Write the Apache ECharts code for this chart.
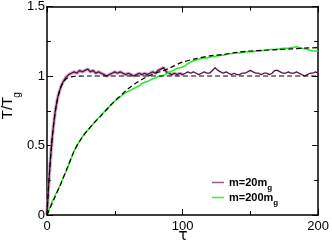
<!DOCTYPE html>
<html>
<head>
<meta charset="utf-8">
<script src="https://cdn.jsdelivr.net/npm/echarts@6/dist/echarts.min.js"></script>
<style>
  html, body { margin: 0; padding: 0; background: #fff; }
  #chart { width: 332px; height: 242px; }
</style>
</head>
<body>
<div id="chart"></div>
<script>
// m = 20 m_g (noisy, fast relaxation)
const tauLight = [0, 1, 2, 3, 4, 5, 6, 7, 8, 9, 10, 11, 12, 13, 14, 15, 16,
  18, 20, 22, 24, 26, 28, 30, 32, 34, 36, 38, 40, 42, 44, 46, 48, 50, 52, 54, 56,
  58, 60, 62, 64, 66, 68, 70, 72, 74, 76, 78, 80, 82, 84, 86, 88, 90, 92, 94, 96,
  98, 100, 102, 104, 106, 108, 110, 112, 114, 116, 118, 120, 122, 124, 126, 128, 130, 132, 134, 136,
  138, 140, 142, 144, 146, 148, 150, 152, 154, 156, 158, 160, 162, 164, 166, 168, 170, 172, 174, 176,
  178, 180, 182, 184, 186, 188, 190, 192, 194, 196, 198, 200]
const tempLight = [0, 0.18, 0.33, 0.46, 0.57, 0.66, 0.74, 0.8, 0.85, 0.885, 0.915, 0.94, 0.96, 0.975, 0.99, 1.0, 1.01,
  1.02, 1.03, 1.02, 1.04, 1.03, 1.04, 1.05, 1.03, 1.04, 1.02, 1.03, 1.02, 1.01, 1.0, 1.01, 1.02, 1.03, 1.02, 1.03, 1.02,
  1.01, 1.02, 1.01, 1.0, 1.01, 1.02, 1.01, 1.02, 1.01, 1.02, 1.03, 1.02, 1.04, 1.05, 1.06, 1.03, 1.02, 1.01, 1.02, 1.01,
  1.02, 1.01, 1.02, 1.03, 1.02, 1.03, 1.02, 1.01, 1.02, 1.03, 1.02, 1.02, 1.04, 1.06, 1.04, 1.03, 1.02, 1.03, 1.02, 1.01,
  1.02, 1.01, 1.01, 1.02, 1.02, 1.03, 1.04, 1.03, 1.02, 1.02, 1.01, 1.02, 1.02, 1.01, 1.02, 1.04, 1.04, 1.03, 1.02, 1.02,
  1.03, 1.02, 1.02, 1.03, 1.02, 1.01, 1.0, 1.01, 1.02, 1.02, 1.03, 1.02]

// m = 200 m_g (slow relaxation)
const tauHeavy = [0, 2, 4, 6, 8, 10, 12, 14, 16, 18,
  20, 22, 24, 26, 28, 30, 32, 34, 36, 38,
  40, 42, 44, 46, 48, 50, 52, 54, 56, 58,
  60, 62, 64, 66, 68, 70, 72, 74, 76, 78,
  80, 82, 84, 86, 88, 90, 92, 94, 96, 98,
  100, 102, 104, 106, 108, 110, 112, 114, 116, 118,
  120, 122, 124, 126, 128, 130, 132, 134, 136, 138,
  140, 142, 144, 146, 148, 150, 152, 154, 156, 158,
  160, 162, 164, 166, 168, 170, 172, 174, 176, 178,
  180, 182, 184, 186, 188, 190, 192, 194, 196, 198, 200]
const tempHeavy = [0, 0.05, 0.1, 0.14, 0.18, 0.22, 0.27, 0.31, 0.36, 0.41,
  0.46, 0.5, 0.53, 0.56, 0.59, 0.61, 0.63, 0.655, 0.68, 0.7,
  0.72, 0.74, 0.76, 0.78, 0.8, 0.82, 0.835, 0.85, 0.865, 0.88,
  0.89, 0.9, 0.91, 0.92, 0.93, 0.945, 0.955, 0.96, 0.97, 0.98,
  0.985, 0.995, 1.0, 1.005, 1.015, 1.025, 1.035, 1.045, 1.055, 1.06,
  1.065, 1.075, 1.09, 1.1, 1.11, 1.115, 1.12, 1.125, 1.13, 1.13,
  1.135, 1.14, 1.14, 1.145, 1.15, 1.15, 1.155, 1.16, 1.16, 1.165,
  1.165, 1.165, 1.17, 1.17, 1.175, 1.175, 1.175, 1.18, 1.18, 1.18,
  1.185, 1.185, 1.19, 1.19, 1.19, 1.195, 1.195, 1.2, 1.2, 1.2,
  1.205, 1.205, 1.21, 1.205, 1.2, 1.195, 1.19, 1.185, 1.18, 1.18, 1.18]

// dashed fits
const tauFitLight = [0, 1, 2, 3, 4, 5, 6, 7, 8, 10, 12, 15, 20, 30, 200]
const fitLight = [0, 0.18, 0.33, 0.46, 0.57, 0.66, 0.735, 0.795, 0.845, 0.915, 0.955, 0.985, 0.997, 1, 1]
const tauFitHeavy = [0, 5, 10, 15, 20, 25, 30, 35, 40, 45, 50, 55, 60, 65, 70, 75, 80, 85, 90,
  100, 110, 120, 130, 140, 150, 160, 170, 180, 190, 200]
const fitHeavy = [0, 0.11, 0.22, 0.34, 0.46, 0.545, 0.61, 0.665, 0.715, 0.77, 0.82, 0.865, 0.91, 0.945, 0.975, 1.0, 1.02, 1.036, 1.055,
  1.1, 1.125, 1.145, 1.155, 1.17, 1.18, 1.185, 1.19, 1.195, 1.2, 1.205]

const legendNames = ['m=20m', 'm=200m']

const pairs = (xs, ys) => xs.map((x, i) => [x, ys[i]])

const FONT = 'Liberation Sans'
const axisCommon = {
  axisLine: { onZero: false, lineStyle: { color: '#000', width: 1.5 } },
  axisTick: { inside: true, length: 6, lineStyle: { color: '#000', width: 1 } },
  minorTick: { show: true, splitNumber: 2, length: 4, lineStyle: { color: '#000', width: 1 } },
  splitLine: { show: false },
  minorSplitLine: { show: false }
}

let chart = echarts.init(document.getElementById('chart'))
chart.setOption({
  animation: false,
  backgroundColor: '#fff',
  grid: { left: 47, right: 13, top: 5, bottom: 27 },
  xAxis: [
    Object.assign({
      type: 'value', min: 0, max: 200, interval: 100, position: 'bottom',
      axisLabel: { fontFamily: FONT, fontSize: 13, color: '#000', margin: 5 }
    }, axisCommon),
    Object.assign({
      type: 'value', min: 0, max: 200, interval: 100, position: 'top',
      axisLabel: { show: false }
    }, axisCommon)
  ],
  yAxis: [
    Object.assign({
      type: 'value', min: 0, max: 1.5, interval: 0.5, position: 'left',
      axisLabel: { fontFamily: FONT, fontSize: 13, color: '#000', margin: 2 }
    }, axisCommon),
    Object.assign({
      type: 'value', min: 0, max: 1.5, interval: 0.5, position: 'right',
      axisLabel: { show: false }
    }, axisCommon)
  ],
  legend: {
    data: legendNames,
    orient: 'vertical',
    left: 207,
    top: 172,
    itemWidth: 12,
    itemHeight: 1.5,
    itemGap: 0.5,
    icon: 'rect',
    formatter: name => '{a|' + name + '}{s|g}',
    textStyle: {
      rich: {
        a: { fontFamily: FONT, fontSize: 11, fontWeight: 'bold', color: '#000', lineHeight: 18 },
        s: { fontFamily: FONT, fontSize: 8, fontWeight: 'bold', color: '#000', lineHeight: 6, verticalAlign: 'bottom' }
      }
    }
  },
  graphic: [
    {
      type: 'text', x: 8, y: 108, rotation: Math.PI / 2,
      style: { text: 'T/T', font: '15px "Liberation Sans"', fill: '#000', align: 'center', verticalAlign: 'middle' }
    },
    {
      type: 'text', x: 17, y: 95, rotation: Math.PI / 2,
      style: { text: 'g', font: '10px "Liberation Sans"', fill: '#000', align: 'center', verticalAlign: 'middle' }
    },
    {
      type: 'text', x: 183, y: 236,
      style: { text: 'τ', font: '15px "DejaVu Sans"', fill: '#000', align: 'center', verticalAlign: 'middle' }
    }
  ],
  series: [
    {
      name: 'halo',
      type: 'line',
      symbol: 'none',
      data: pairs(tauLight, tempLight).filter(p => p[0] <= 100),
      lineStyle: { color: '#b07aa3', width: 3.5, opacity: 0.6 },
      silent: true,
      z: 1
    },
    {
      name: legendNames[0],
      type: 'line',
      symbol: 'none',
      data: pairs(tauLight, tempLight),
      itemStyle: { color: '#9a5a8c' },
      lineStyle: { color: '#5a0e44', width: 1.3 },
      z: 2
    },
    {
      name: legendNames[1],
      type: 'line',
      symbol: 'none',
      data: pairs(tauHeavy, tempHeavy),
      itemStyle: { color: '#33ee33' },
      lineStyle: { color: '#22ee22', width: 1.5 },
      z: 2
    },
    {
      name: 'fit20',
      type: 'line',
      symbol: 'none',
      smooth: 0.3,
      data: pairs(tauFitLight, fitLight),
      lineStyle: { color: '#000', width: 1.2, type: [5, 3] },
      z: 3
    },
    {
      name: 'fit200',
      type: 'line',
      symbol: 'none',
      smooth: 0.3,
      data: pairs(tauFitHeavy, fitHeavy),
      lineStyle: { color: '#000', width: 1.2, type: [5, 3] },
      z: 3
    }
  ]
})
</script>
</body>
</html>
